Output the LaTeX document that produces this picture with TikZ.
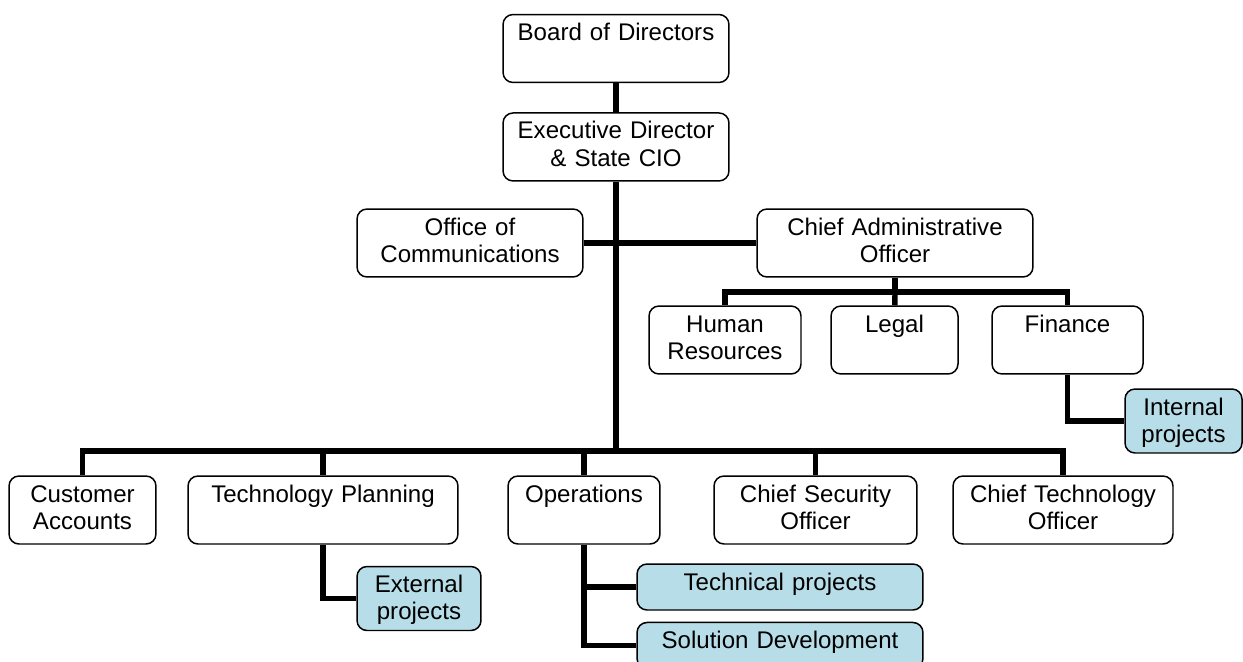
\documentclass[tikz,border=0pt]{standalone}
\usepackage{fontspec}
\setmainfont{Liberation Sans}
\usetikzlibrary{positioning}
\definecolor{projcyan}{HTML}{B7DEE8}
\tikzset{
    unit/.style={rectangle, draw, fill=white, rounded corners=0.2cm, line width=0.85pt, inner sep=0pt, minimum width=#1, text width=#1, align=center, text height=0.52cm, text depth=0.84cm, font=\fontsize{13.7}{15.4}\selectfont},
    project/.style={unit=#1, fill=projcyan, text depth=0.76cm},
    task/.style={unit=#1, fill=projcyan, text depth=0.40cm},
    line/.style={draw, line width=3.1pt}
}
\begin{document}
\begin{tikzpicture}[x=0.02cm, y=-0.02cm]
    \path[use as bounding box] (0,0) rectangle (1243,662);

    \node [unit=4.52cm] (board) at (616,48.5) {Board of Directors};
    \node [unit=4.52cm, below=0.58cm of board] (exec) {Executive Director\\\& State CIO};
    \node [unit=4.52cm] (office) at (470,243) {Office of\\Communications};
    \node [unit=5.52cm] (cao) at (895,243) {Chief Administrative\\Officer};
    \node [unit=3.04cm] (hr) at (725,340) {Human\\Resources};
    \node [unit=2.54cm] (legal) at (894.5,340) {Legal};
    \node [unit=3.02cm] (finance) at (1067.5,340) {Finance};
    \node [project=2.34cm] (internal) at (1183.5,421) {Internal\\projects};

    \node [unit=2.94cm] (custacc) at (82.5,510) {Customer\\Accounts};
    \node [unit=5.40cm] (techplan) at (323,510) {Technology Planning};
    \node [unit=3.04cm] (ops) at (584,510) {Operations};
    \node [unit=4.06cm] (cso) at (815.5,510) {Chief Security\\Officer};
    \node [unit=4.40cm] (cto) at (1063,510) {Chief Technology\\Officer};
    \node [project=2.48cm] (external) at (419,598.5) {External\\projects};
    \node [task=5.72cm] (technical) at (780,587) {Technical projects};
    \node [task=5.72cm, below=0.22cm of technical] (solution) {Solution Development};

    \coordinate (hub) at (616,451);
    \coordinate (adminhub) at (895,292);

    \path [line] (board) -- (exec);
    \path [line] (exec) -- (hub);
    \path [line] (office) -- (cao);
    \path [line] (cao) -- (adminhub);
    \path [line] (adminhub) -| (hr);
    \path [line] (adminhub) -- (legal);
    \path [line] (adminhub) -| (finance);
    \path [line] (finance) |- (internal);
    \path [line] (hub) -| (custacc);
    \path [line] (hub) -| (techplan);
    \path [line] (hub) -| (ops);
    \path [line] (hub) -| (cso);
    \path [line] (hub) -| (cto);
    \path [line] (techplan) |- (external);
    \path [line] (ops) |- (technical);
    \path [line] (ops) |- (solution);
\end{tikzpicture}
\end{document}
